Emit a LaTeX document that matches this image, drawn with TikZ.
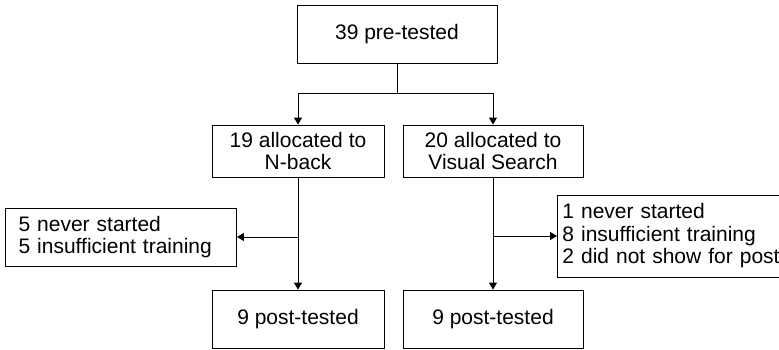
\documentclass[tikz,border=0pt]{standalone}
\usepackage{fontspec}
\setmainfont{Liberation Sans}
\usetikzlibrary{positioning,arrows.meta}
\tikzstyle{box} = [rectangle, draw=black, line width=0.9pt, text centered, font=\fontsize{21}{22.5}\selectfont]
\tikzstyle{pbox} = [box, minimum width=200pt, minimum height=58pt]
\tikzstyle{gbox} = [box, align=center, minimum height=52pt]
\tikzstyle{dbox} = [box, align=left, inner ysep=4pt]
\tikzstyle{arrow} = [line width=0.9pt,-{Triangle[length=7pt,width=8pt]}]
\tikzstyle{line} = [line width=0.9pt]

\begin{document}
\begin{tikzpicture}[x=1pt, y=1pt]
\useasboundingbox (0,0) rectangle (779,-349);
\clip (0,0) rectangle (779,-349);
\node (pre) [pbox] at (397,-34) {39 pre-tested};
\node (nback) [gbox, node distance=117pt, below of=pre, xshift=-99pt, minimum width=172pt] {19 allocated to\\N-back};
\node (vsearch) [gbox, node distance=117pt, below of=pre, xshift=96pt, minimum width=180pt] {20 allocated to\\Visual Search};
\node (postnb) [pbox, node distance=168pt, below of=nback, minimum width=172pt] {9 post-tested};
\node (postvs) [pbox, node distance=168pt, below of=vsearch, minimum width=180pt] {9 post-tested};
\node (dropnb) [dbox, text width=205pt, inner xsep=13pt, minimum height=58pt] at (121,-237) {5 never started\\5 insufficient training};
\node (dropvs) [dbox, anchor=west, inner xsep=5pt, minimum height=82pt, text width=230pt] at (557,-236) {1 never started\\8 insufficient training\\2 did not show for post};
\coordinate (split) at (397,-93);
\draw [line] (pre) -- (split);
\draw [arrow] (split) -| (nback);
\draw [arrow] (split) -| (vsearch);
\draw [arrow] (nback) -- (postnb);
\draw [arrow] (vsearch) -- (postvs);
\draw [arrow] (nback.south |- dropnb.east) -- (dropnb);
\draw [arrow] (vsearch.south |- dropvs.west) -- (dropvs);
\end{tikzpicture}
\end{document}
